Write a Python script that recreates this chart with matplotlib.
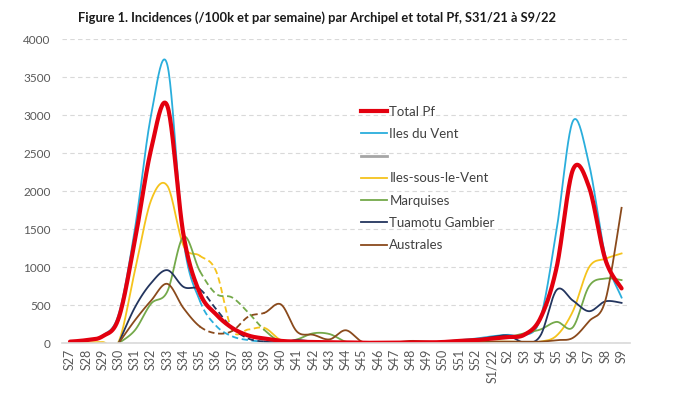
import numpy as np
import matplotlib.pyplot as plt
from matplotlib.lines import Line2D

plt.rcParams['font.family'] = ['Lato', 'DejaVu Sans']

nan = np.nan
weeks = ['S27', 'S28', 'S29', 'S30', 'S31', 'S32', 'S33', 'S34', 'S35', 'S36',
         'S37', 'S38', 'S39', 'S40', 'S41', 'S42', 'S43', 'S44', 'S45', 'S46',
         'S47', 'S48', 'S49', 'S50', 'S51', 'S52', 'S1/22', 'S2', 'S3', 'S4',
         'S5', 'S6', 'S7', 'S8', 'S9']

total_pf = [20, 40, 90, 330, 1350, 2550, 3120, 1420, 660, 380, 200, 100, 60, 30, 20,
            15, 10, 10, 5, 5, 5, 10, 10, 15, 30, 40, 60, 80, 110, 330, 1000, 2280,
            2050, 1100, 720]
iles_du_vent = [20, 45, 100, 380, 1500, 3000, 3660, 1350, 560, 230, 90, 40, 20, 10,
                30, 10, 5, 5, 5, 5, 5, 10, 10, 20, 40, 60, 90, 110, 100, 330, 1500,
                2920, 2350, 1150, 600]
iles_sous_le_vent = [0, 10, 15, 20, 950, 1880, 2070, 1280, 1150, 950, 170, 180, 200,
                     40, 20, 10, 10, 10, 5, 5, 5, 5, 5, 5, 10, 15, 20, 20, 15, 20, 100,
                     420, 1000, 1110, 1180]
marquises = [nan, nan, nan, 0, 170, 520, 680, 1400, 950, 650, 600, 400, 170, 20, 50,
             130, 120, 20, 10, 10, 10, 10, 10, 10, 15, 20, 60, 80, 130, 180, 280, 210,
             750, 850, 830]
tuamotu = [nan, nan, nan, 0, 470, 790, 960, 740, 710, 450, 200, 60, 20, 10, 40, 20,
           10, 5, 5, 5, 5, 5, 5, 10, 20, 40, 80, 100, 10, 100, 700, 560, 420, 550, 530]
australes = [nan, nan, nan, 0, 300, 560, 780, 460, 220, 130, 160, 350, 400, 510, 150,
             110, 50, 170, 20, 10, 10, 30, 20, 10, 10, 10, 20, 20, 20, 20, 40, 70, 290,
             560, 1780]

# weeks where the data was incomplete (dashed)
dash_start, dash_end = weeks.index('S35'), weeks.index('S39')


def smooth(x, y, n=24):
    # Catmull-Rom, close to Excel's "smoothed line"
    p = np.column_stack([x, y]).astype(float)
    p = np.vstack([p[0], p, p[-1]])
    out = []
    t = np.linspace(0, 1, n, endpoint=False)[:, None]
    for i in range(1, len(p) - 2):
        p0, p1, p2, p3 = p[i - 1], p[i], p[i + 1], p[i + 2]
        c = 0.5 * (2 * p1 + (-p0 + p2) * t + (2 * p0 - 5 * p1 + 4 * p2 - p3) * t ** 2
                   + (-p0 + 3 * p1 - 3 * p2 + p3) * t ** 3)
        out.append(c)
    out.append(p[-2][None, :])
    c = np.vstack(out)
    return c[:, 0], c[:, 1]


fig = plt.figure(figsize=(6.8, 3.94), dpi=100)
ax = fig.add_axes([0.091, 0.129, 0.835, 0.772])

series = [
    (iles_du_vent, '#2aaedc', 1.3, True),
    (iles_sous_le_vent, '#f5c31c', 1.3, True),
    (marquises, '#74a94a', 1.3, True),
    (tuamotu, '#23355e', 1.3, True),
    (australes, '#8a4a1c', 1.3, True),
    (total_pf, '#e3000f', 3.0, False),
]

for vals, col, lw, dashed in series:
    v = np.array(vals, dtype=float)
    idx = np.arange(len(v))
    ok = ~np.isnan(v)
    xs, ys = smooth(idx[ok], v[ok])
    if not dashed:
        ax.plot(xs, ys, color=col, lw=lw, solid_capstyle='round')
        continue
    a = xs <= dash_start + 1e-9
    b = (xs >= dash_start - 1e-9) & (xs <= dash_end + 1e-9)
    c = xs >= dash_end - 1e-9
    ax.plot(xs[a], ys[a], color=col, lw=lw)
    ax.plot(xs[b], ys[b], color=col, lw=lw, ls=(0, (3.5, 2)))
    ax.plot(xs[c], ys[c], color=col, lw=lw)

ax.set_xlim(-0.5, len(weeks) - 0.5)
ax.set_ylim(0, 4000)
ax.set_yticks(range(0, 4001, 500))
ax.set_xticks(range(len(weeks)))
ax.set_xticklabels(weeks, rotation=90)
ax.tick_params(length=0, labelsize=8.5, colors='#595959', pad=8)
ax.tick_params(axis='x', pad=4, labelsize=9)
for s in ['top', 'right', 'left']:
    ax.spines[s].set_visible(False)
ax.spines['bottom'].set_color('#d9d9d9')
ax.spines['bottom'].set_linewidth(1.2)
ax.yaxis.grid(True, color='#d9d9d9', ls=(0, (4, 3)), lw=0.8)
ax.set_axisbelow(True)

handles = [
    Line2D([], [], color='#e3000f', lw=3.0),
    Line2D([], [], color='#2aaedc', lw=1.3),
    Line2D([], [], color='#a6a6a6', lw=2.0),
    Line2D([], [], color='#f5c31c', lw=1.3),
    Line2D([], [], color='#74a94a', lw=1.3),
    Line2D([], [], color='#23355e', lw=1.3),
    Line2D([], [], color='#8a4a1c', lw=1.3),
]
labels = ['Total Pf', 'Iles du Vent', '', 'Iles-sous-le-Vent', 'Marquises',
          'Tuamotu Gambier', 'Australes']
leg = fig.legend(handles, labels, loc='upper left', bbox_to_anchor=(0.531, 0.732),
                 frameon=False, fontsize=9.5, handlelength=2.0, handletextpad=0.15,
                 labelspacing=0.78, borderpad=0, borderaxespad=0)
for t in leg.get_texts():
    t.set_color('#404040')

fig.text(0.466, 0.955, 'Figure 1. Incidences (/100k et par semaine) par Archipel et total Pf, S31/21 à S9/22',
         ha='center', va='center', fontsize=9.3, fontweight='bold', color='#1a1a1a')

fig.savefig('out.png', dpi=100)
